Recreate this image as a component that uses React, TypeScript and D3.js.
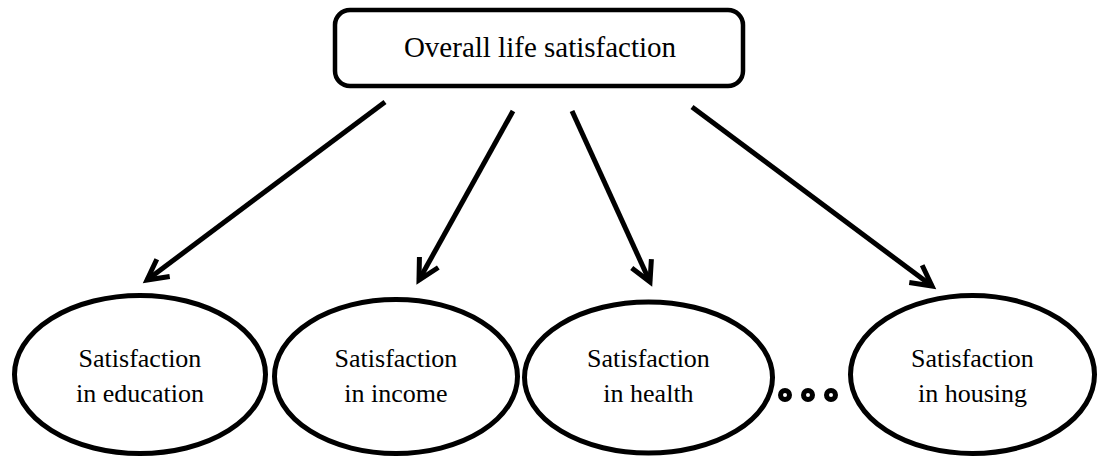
import React from "react";
import * as d3 from "d3";

// ---- content ----
const rootLabel = "Overall life satisfaction";
const childLine1 = ["Satisfaction", "Satisfaction", "Satisfaction", "Satisfaction"];
const childLine2 = ["in education", "in income", "in health", "in housing"];
const ellipsisDots = [0, 1, 2];

// ---- layout (pixels) ----
const W = 1099;
const H = 457;
const childCx = [140, 396, 648.5, 972.5];
const childCy = [374.5, 376.5, 377.5, 374.5];
const childRx = [125.5, 121.5, 124, 122];
const childRy = [79, 77, 75.5, 79];
const arrowStart: [number, number][] = [[385, 102], [513, 111], [572, 111], [692, 107]];
const arrowTip: [number, number][] = [[147, 280], [419, 280], [650, 282], [932, 286]];
const dotX = d3.scaleLinear().domain([0, 2]).range([785, 831]);

const FONT = "'Liberation Serif', 'Times New Roman', Times, serif";

function arrowHead(tip: [number, number], from: [number, number], len = 23, half = (28 * Math.PI) / 180) {
  const ang = Math.atan2(from[1] - tip[1], from[0] - tip[0]);
  const p = d3.path();
  p.moveTo(tip[0] + len * Math.cos(ang + half), tip[1] + len * Math.sin(ang + half));
  p.lineTo(tip[0], tip[1]);
  p.lineTo(tip[0] + len * Math.cos(ang - half), tip[1] + len * Math.sin(ang - half));
  return p.toString();
}

export default function App() {
  const line = d3.line();
  return (
    <svg
      width={W}
      height={H}
      style={{ position: "absolute", left: 0, top: 0, background: "#fff" }}
      viewBox={`0 0 ${W} ${H}`}
    >
      <rect x={0} y={0} width={W} height={H} fill="#fff" />
      {/* root box */}
      <rect x={335} y={10} width={408} height={76} rx={15} ry={15} fill="#fff" stroke="#000" strokeWidth={4.5} />
      <text x={540} y={57} textAnchor="middle" fontFamily={FONT} fontSize={29} fill="#000">
        {rootLabel}
      </text>

      {/* arrows */}
      {arrowStart.map((s, i) => (
        <g key={i} fill="none" stroke="#000" strokeWidth={5} strokeLinecap="butt" strokeLinejoin="miter">
          <path d={line([s, arrowTip[i]]) || ""} />
          <path d={arrowHead(arrowTip[i], s)} />
        </g>
      ))}

      {/* children */}
      {childLine1.map((l1, i) => (
        <g key={i}>
          <ellipse cx={childCx[i]} cy={childCy[i]} rx={childRx[i]} ry={childRy[i]} fill="none" stroke="#000" strokeWidth={5} />
          <text x={childCx[i]} y={367} textAnchor="middle" fontFamily={FONT} fontSize={26} fill="#000">
            {l1}
          </text>
          <text x={childCx[i]} y={402} textAnchor="middle" fontFamily={FONT} fontSize={26} fill="#000">
            {childLine2[i]}
          </text>
        </g>
      ))}

      {/* ellipsis dots */}
      {ellipsisDots.map((d) => (
        <circle key={d} cx={dotX(d)} cy={395} r={4.5} fill="#fff" stroke="#000" strokeWidth={5} />
      ))}
    </svg>
  );
}
